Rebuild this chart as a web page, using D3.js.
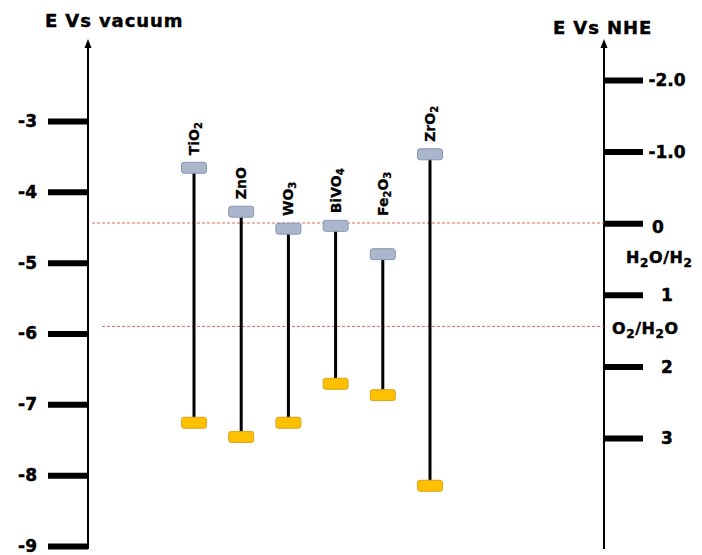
<!DOCTYPE html>
<html>
<head>
<meta charset="utf-8">
<script src="https://cdn.jsdelivr.net/npm/d3@7"></script>
<style>
  body { margin: 0; background: #fff; }
  svg text { font-family: "DejaVu Sans", sans-serif; font-weight: bold; fill: #000; stroke: #000; stroke-width: 0.45px; }
</style>
</head>
<body>
<div id="chart"></div>
<script>
// Chart data (energies, eV vs vacuum)
const materials = ["TiO2", "ZnO", "WO3", "BiVO4", "Fe2O3", "ZrO2"];
const cbVac = [-3.66, -4.28, -4.52, -4.48, -4.88, -3.47];
const vbVac = [-7.26, -7.46, -7.26, -6.71, -6.87, -8.15];

const vacTicks = [-3, -4, -5, -6, -7, -8, -9];
const nheTicks = [-2, -1, 0, 1, 2, 3];
const nheTickLabels = ["-2.0", "-1.0", "0", "1", "2", "3"];

const refNames = ["H2O/H2", "O2/H2O"];
const refVac = [-4.44, -5.9];

// Dimensions
const width = 702, height = 555;
const leftX = 88, rightX = 604;

const yVac = d3.scaleLinear().domain([-3, -9]).range([121, 546]);
const yNHE = d3.scaleLinear().domain([-2, 3]).range([80, 438]);
const x = d3.scalePoint().domain(materials).range([194, 430]);

const svg = d3.select("#chart")
  .append("svg")
    .attr("width", width)
    .attr("height", height);

// write chemical formula with digits as subscripts
function formula(sel, str, subSize, shift) {
  let prevSub = false;
  str.split(/(\d)/).filter(s => s.length).forEach(part => {
    const isSub = /\d/.test(part);
    const t = sel.append("tspan").text(part);
    if (isSub) {
      t.attr("dy", shift).style("font-size", subSize + "px");
    } else if (prevSub) {
      t.attr("dy", -shift);
    }
    prevSub = isSub;
  });
}

// Titles
svg.append("text").attr("x", 45).attr("y", 27)
  .style("font-size", "18px").style("letter-spacing", "0.9px")
  .text("E Vs vacuum");
svg.append("text").attr("x", 553).attr("y", 34)
  .style("font-size", "18px").style("letter-spacing", "0.9px")
  .text("E Vs NHE");

// Axis lines with arrow heads
[leftX, rightX].forEach(ax => {
  svg.append("line")
    .attr("x1", ax).attr("x2", ax)
    .attr("y1", 549).attr("y2", 46)
    .attr("stroke", "#000").attr("stroke-width", 2);
  svg.append("path")
    .attr("d", `M${ax - 3.5},48 L${ax},39 L${ax + 3.5},48 Z`)
    .attr("fill", "#000");
});

// Left axis (vacuum)
const gL = svg.append("g")
  .attr("transform", `translate(${leftX},0)`)
  .call(d3.axisLeft(yVac)
    .tickValues(vacTicks)
    .tickSize(40)
    .tickPadding(11)
    .tickFormat(d => String(d)));
gL.select(".domain").remove();
gL.selectAll(".tick line").attr("stroke", "#000").attr("stroke-width", 6);
gL.selectAll(".tick text").style("font-size", "17px");

// Right axis (NHE)
const gR = svg.append("g")
  .attr("transform", `translate(${rightX},0)`)
  .call(d3.axisRight(yNHE)
    .tickValues(nheTicks)
    .tickSize(39)
    .tickFormat((d, i) => nheTickLabels[i]));
gR.select(".domain").remove();
gR.selectAll(".tick line").attr("stroke", "#000").attr("stroke-width", 6);
gR.selectAll(".tick text")
  .attr("x", (d, i) => i === 2 ? 54 : 63)
  .attr("text-anchor", "middle")
  .attr("dy", (d, i) => i === 2 ? "0.55em" : "0.35em")
  .style("font-size", "17px");

// Redox reference lines
refVac.forEach((v, i) => {
  svg.append("line")
    .attr("x1", i ? 102 : 92).attr("x2", rightX)
    .attr("y1", yVac(v)).attr("y2", yVac(v))
    .attr("stroke", "#e06a5e").attr("stroke-width", 1)
    .attr("stroke-dasharray", "3,2");
});
const refLabels = [
  { x: 626, dy: 40 },
  { x: 612, dy: 8 }
];
refNames.forEach((name, i) => {
  const t = svg.append("text")
    .attr("x", refLabels[i].x)
    .attr("y", yVac(refVac[i]) + refLabels[i].dy)
    .style("font-size", "16px")
    .style("letter-spacing", "0.6px");
  formula(t, name, 12, 4);
});

// Band edges
const bands = materials.map((m, i) => ({ name: m, cb: cbVac[i], vb: vbVac[i] }));
const boxW = 25, boxH = 11;

svg.selectAll(".gap")
  .data(bands)
  .join("line")
    .attr("class", "gap")
    .attr("x1", d => x(d.name)).attr("x2", d => x(d.name))
    .attr("y1", d => yVac(d.cb)).attr("y2", d => yVac(d.vb))
    .attr("stroke", "#000").attr("stroke-width", 3);

svg.selectAll(".cb")
  .data(bands)
  .join("rect")
    .attr("class", "cb")
    .attr("x", d => x(d.name) - boxW / 2)
    .attr("y", d => yVac(d.cb) - boxH / 2)
    .attr("width", boxW).attr("height", boxH)
    .attr("rx", 2.5)
    .attr("fill", "#a9b6cc").attr("stroke", "#8797b2").attr("stroke-width", 1);

svg.selectAll(".vb")
  .data(bands)
  .join("rect")
    .attr("class", "vb")
    .attr("x", d => x(d.name) - boxW / 2)
    .attr("y", d => yVac(d.vb) - boxH / 2)
    .attr("width", boxW).attr("height", boxH)
    .attr("rx", 2.5)
    .attr("fill", "#ffc000").attr("stroke", "#d9a31c").attr("stroke-width", 1);

// Material labels, rotated
bands.forEach(d => {
  const bottom = Math.min(yVac(d.cb) - boxH / 2 - 7, 216);
  const t = svg.append("text")
    .attr("transform", `translate(${x(d.name) + 5},${bottom}) rotate(-90)`)
    .style("font-size", "14px")
    .style("stroke-width", "0.3px");
  formula(t, d.name, 10, 3);
});
</script>
</body>
</html>
